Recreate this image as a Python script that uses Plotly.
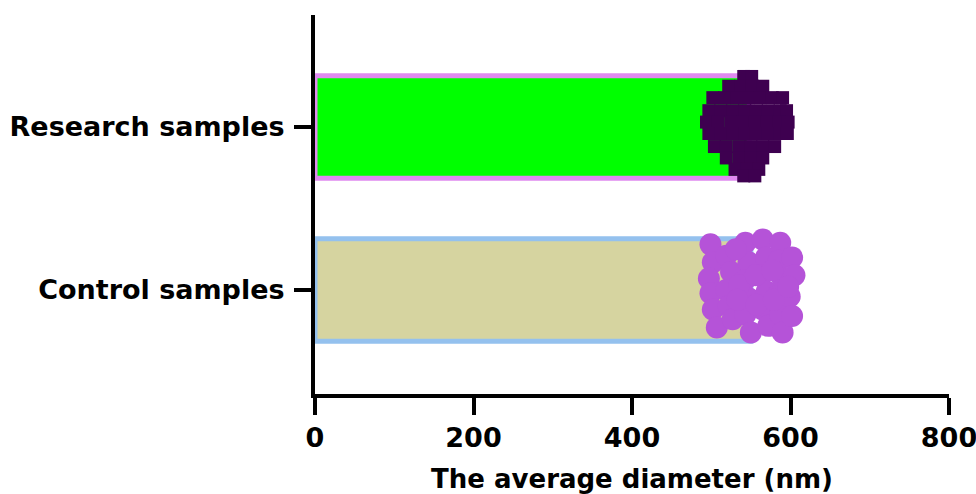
import plotly.graph_objects as go

categories = ["Control samples", "Research samples"]
bar_means = [550, 548]
bar_fill = ["#d6d4a0", "#00ff00"]
bar_edge = ["#94c1ee", "#e08af0"]

# Research samples: individual diameters (nm) and swarm offsets
research_vals = [541, 551,
                 522, 537, 552, 565,
                 502, 517, 532, 547, 562, 577, 590,
                 497, 512, 527, 542, 557, 572, 587, 595,
                 494, 509, 525, 540, 555, 570, 585, 597,
                 497, 512, 527, 542, 557, 572, 587, 596,
                 504, 519, 535, 550, 565, 580,
                 519, 535, 550, 565,
                 530, 545, 560,
                 541, 555]
research_off = [0.31, 0.31,
                0.25, 0.25, 0.25, 0.25,
                0.18, 0.18, 0.18, 0.18, 0.18, 0.18, 0.18,
                0.10, 0.10, 0.10, 0.10, 0.10, 0.10, 0.10, 0.10,
                0.03, 0.03, 0.03, 0.03, 0.03, 0.03, 0.03, 0.03,
                -0.04, -0.04, -0.04, -0.04, -0.04, -0.04, -0.04, -0.04,
                -0.12, -0.12, -0.12, -0.12, -0.12, -0.12,
                -0.19, -0.19, -0.19, -0.19,
                -0.26, -0.26, -0.26,
                -0.30, -0.30]

# Control samples: individual diameters (nm) and swarm offsets
control_vals = [499, 502, 497, 499, 502, 507,
                519, 525, 519, 522, 527,
                543, 547, 542, 547, 543, 550,
                565, 569, 563, 570, 565, 572,
                587, 585, 590, 582, 587, 590,
                602, 605, 599, 602,
                531, 535, 533, 556, 557, 577, 579, 597]
control_off = [0.28, 0.17, 0.07, -0.02, -0.12, -0.23,
               0.21, 0.11, 0.0, -0.10, -0.18,
               0.29, 0.17, 0.06, -0.05, -0.15, -0.26,
               0.31, 0.20, 0.09, -0.01, -0.12, -0.22,
               0.29, 0.18, 0.07, -0.04, -0.15, -0.26,
               0.20, 0.09, -0.04, -0.16,
               0.25, 0.03, -0.06, 0.09, -0.09, 0.12, -0.06, 0.02]

x_ticks = [0, 200, 400, 600, 800]

FONT = "DejaVu Sans, Verdana, sans-serif"

fig = go.Figure()
fig.add_trace(go.Bar(
    x=bar_means, y=[0, 1], orientation="h", width=0.63,
    marker=dict(color=bar_fill, line=dict(color=bar_edge, width=5)),
    showlegend=False, hoverinfo="skip"))

fig.add_trace(go.Scatter(
    x=research_vals, y=[1 + o for o in research_off], mode="markers",
    marker=dict(symbol="square", size=13, color="#3e0050", line=dict(width=0)),
    showlegend=False))

fig.add_trace(go.Scatter(
    x=control_vals, y=[0 + o for o in control_off], mode="markers",
    marker=dict(symbol="circle", size=22, color="#b553d8", line=dict(width=0)),
    showlegend=False))

fig.update_layout(
    width=976, height=494,
    margin=dict(l=315, r=27, t=15, b=100),
    paper_bgcolor="white", plot_bgcolor="white",
    font=dict(family=FONT, color="black"),
    xaxis=dict(range=[0, 800], tickvals=x_ticks, showgrid=False, zeroline=False,
               automargin=False,
               showline=True, linecolor="black", linewidth=4,
               ticks="outside", ticklen=17, tickwidth=4, tickcolor="black",
               ticklabeloverflow="allow",
               tickfont=dict(size=27, family=FONT, weight="bold"),
               title=dict(text="<b>The average diameter (nm)</b>",
                          font=dict(size=26, family=FONT), standoff=24)),
    yaxis=dict(range=[-0.638, 1.687], tickvals=[0, 1], ticktext=categories,
               showgrid=False, zeroline=False, automargin=False,
               showline=True, linecolor="black", linewidth=4,
               ticks="outside", ticklen=17, tickwidth=4, tickcolor="black",
               ticklabelstandoff=4,
               tickfont=dict(size=27, family=FONT, weight="bold")),
)

fig.write_html("out.html")
